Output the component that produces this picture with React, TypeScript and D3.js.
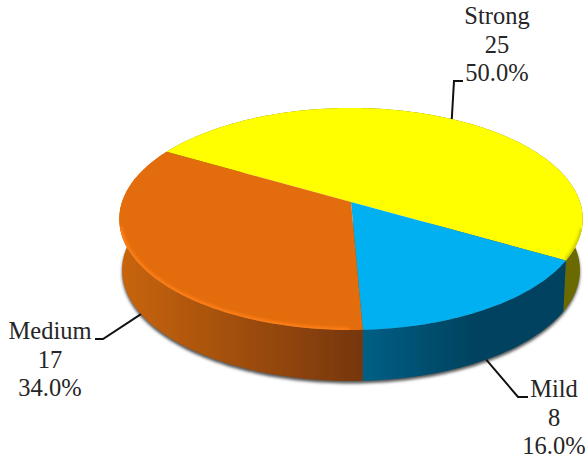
import React from "react";
import * as d3 from "d3";

const categories = ["Strong", "Mild", "Medium"];
const counts = [25, 8, 17];
const percentLabels = ["50.0%", "16.0%", "34.0%"];
const topColors = ["#ffff00", "#00b0f0", "#e36c09"];
const wallStops = [
  ["#7d7d00", "#6a6a00"],
  ["#005f85", "#00435f"],
  ["#c9650c", "#763608"],
];
const labelAnchors = [
  { x: 497, y: 24, elbow: [454, 81], end: [463, 81], onWall: false },
  { x: 554, y: 397, elbow: [518, 397], end: [528, 397], onWall: true },
  { x: 50, y: 339, elbow: [103, 339], end: [95, 339], onWall: true },
];

const WIDTH = 587;
const HEIGHT = 458;
const FONT = "'Liberation Serif', 'Times New Roman', serif";

// Tilted disc: perspective divide keeps the near half larger than the far half.
const CX = 351;
const CY = 202;
const A = 229;
const B = 108.4;
const K = 0.153;
const DEPTH = 51;
const BASE_SCALE = 0.988;

const project = (angle: number, depth = 0): [number, number] => {
  const u = Math.sin(angle);
  const v = -Math.cos(angle);
  const w = 1 - K * v;
  const s = depth ? BASE_SCALE : 1;
  return [CX + (s * A * u) / w, CY + (B * v) / w + depth];
};

const pie = d3
  .pie<number>()
  .sort(null)
  .startAngle((-60.1 * Math.PI) / 180)
  .endAngle((299.9 * Math.PI) / 180);
const slices = pie(counts);

const arcPoints = (a0: number, a1: number, depth = 0) => {
  const n = Math.max(2, Math.ceil(Math.abs(a1 - a0) / 0.02));
  return d3.range(n + 1).map((i) => project(a0 + ((a1 - a0) * i) / n, depth));
};
const poly = d3.line();
const closed = (pts: [number, number][]) => (poly(pts) ?? "") + "Z";

const wedgePath = (a0: number, a1: number) =>
  closed([[CX, CY], ...arcPoints(a0, a1)]);
const wallPath = (a0: number, a1: number) =>
  closed([...arcPoints(a0, a1), ...arcPoints(a1, a0, DEPTH)]);
const discPath = closed(arcPoints(0, Math.PI * 2));
const baseShadowPath = closed(
  arcPoints(Math.PI * 0.4, Math.PI * 1.6, DEPTH).map(
    ([x, y]) => [x, y + 2.5] as [number, number],
  ),
);

// Horizontal extent of each wall, used for its shading gradient.
const wallExtent = (a0: number, a1: number) => {
  const xs = [...arcPoints(a0, a1), ...arcPoints(a0, a1, DEPTH)]
    .filter(([, y]) => y > CY)
    .map(([x]) => x);
  return d3.extent(xs) as [number, number];
};

export default function App() {
  return (
    <svg
      width={WIDTH}
      height={HEIGHT}
      viewBox={`0 0 ${WIDTH} ${HEIGHT}`}
      style={{ position: "absolute", left: 0, top: 0, display: "block", background: "#fff" }}
    >
      <defs>
        <filter id="soft" x="-10%" y="-10%" width="120%" height="120%">
          <feGaussianBlur stdDeviation="1.6" />
        </filter>
        <filter id="rim" x="-10%" y="-10%" width="120%" height="120%">
          <feGaussianBlur stdDeviation="1.6" />
        </filter>
        <filter id="edge" x="-5%" y="-5%" width="110%" height="110%">
          <feGaussianBlur stdDeviation="0.5" />
        </filter>
        <clipPath id="disc">
          <path d={discPath} />
        </clipPath>
        {slices.map((s, i) => {
          const [x0, x1] = wallExtent(s.startAngle, s.endAngle);
          return (
            <linearGradient
              key={i}
              id={`wall-${i}`}
              gradientUnits="userSpaceOnUse"
              x1={x0}
              x2={x1}
              y1={0}
              y2={0}
            >
              <stop offset="0" stopColor={wallStops[i][0]} />
              <stop offset={i === 1 ? "0.55" : "1"} stopColor={wallStops[i][1]} />
            </linearGradient>
          );
        })}
      </defs>

      {/* soft shadow under the base */}
      <path d={baseShadowPath} fill="#555" filter="url(#soft)" />

      {/* side walls */}
      <g filter="url(#edge)">
        {slices.map((s, i) => (
          <path key={i} d={wallPath(s.startAngle, s.endAngle)} fill={`url(#wall-${i})`} />
        ))}
      </g>

      {/* top faces */}
      <g filter="url(#edge)">
        {slices.map((s, i) => (
          <path key={i} d={wedgePath(s.startAngle, s.endAngle)} fill={topColors[i]} />
        ))}
      </g>

      {/* bevel along the rim of the top face */}
      <g clipPath="url(#disc)">
        <path
          d={poly(arcPoints(slices[2].startAngle + 0.05, slices[2].endAngle - 0.75)) ?? ""}
          fill="none"
          stroke="#ff7f12"
          strokeWidth={5}
          filter="url(#rim)"
        />
        <path
          d={poly(arcPoints(slices[0].endAngle - 0.28, slices[0].endAngle)) ?? ""}
          fill="none"
          stroke="#c9c900"
          strokeWidth={4}
          filter="url(#rim)"
        />
      </g>

      {/* leader lines and labels */}
      {slices.map((s, i) => {
        const anchor = labelAnchors[i];
        const mid = (s.startAngle + s.endAngle) / 2;
        const start = project(mid, anchor.onWall ? DEPTH : 0);
        return (
          <g key={i}>
            <polyline
              points={[start, anchor.elbow, anchor.end].map((p) => p.join(",")).join(" ")}
              fill="none"
              stroke="#111"
              strokeWidth={2}
            />
            <text
              x={anchor.x}
              y={anchor.y}
              textAnchor="middle"
              fontFamily={FONT}
              fontSize={24.5}
              fill="#262626"
            >
              {[categories[i], String(counts[i]), percentLabels[i]].map((line, j) => (
                <tspan key={j} x={anchor.x} dy={j === 0 ? 0 : 28.5}>
                  {line}
                </tspan>
              ))}
            </text>
          </g>
        );
      })}
    </svg>
  );
}
